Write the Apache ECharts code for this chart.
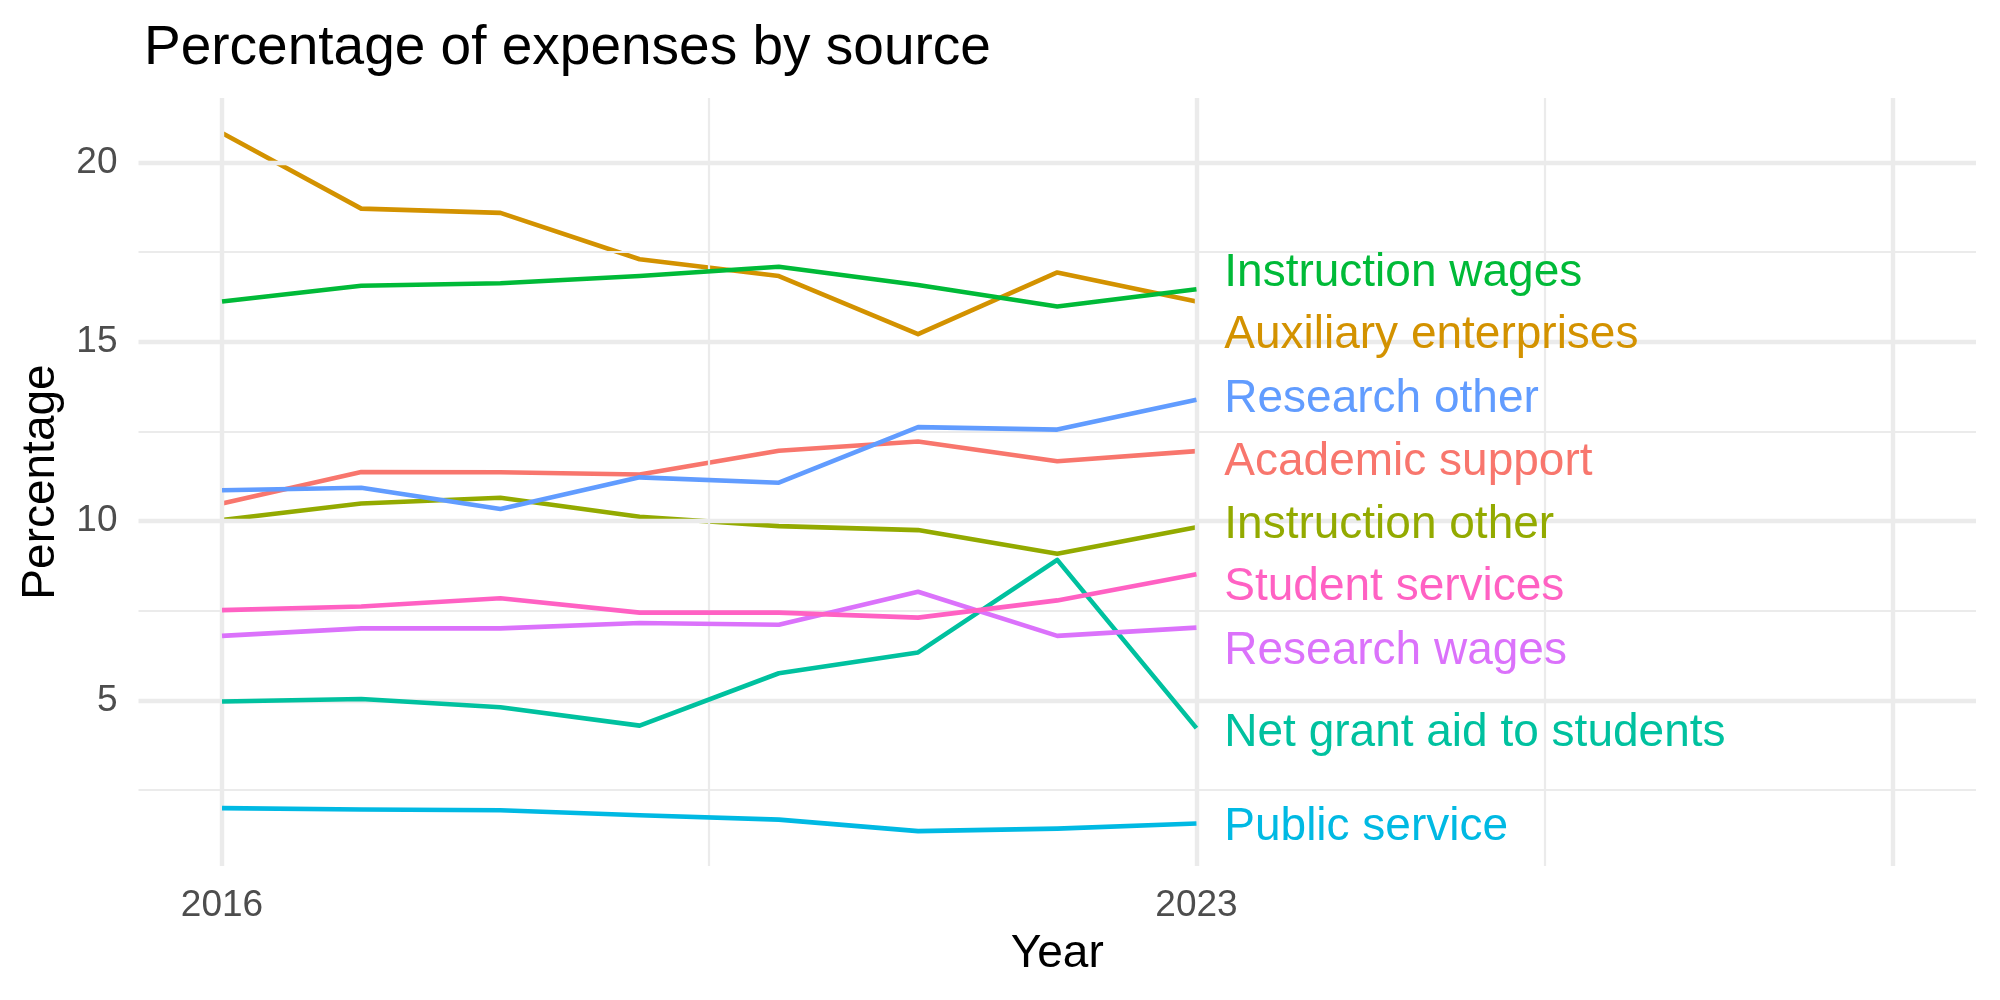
<!DOCTYPE html>
<html>
<head>
<meta charset="utf-8">
<script src="https://cdn.jsdelivr.net/npm/echarts@6/dist/echarts.min.js"></script>
<style>html,body{margin:0;padding:0;background:#fff}#c{width:2000px;height:1000px}</style>
</head>
<body>
<div id="c"></div>
<script>
// ---- data ----
const years = [2016, 2017, 2018, 2019, 2020, 2021, 2022, 2023];
const categories = ["Academic support", "Auxiliary enterprises", "Instruction other", "Instruction wages",
  "Net grant aid to students", "Public service", "Research other", "Research wages", "Student services"];
const academicSupport  = [10.49, 11.37, 11.36, 11.30, 11.96, 12.22, 11.67, 11.95];
const auxiliary        = [20.82, 18.71, 18.59, 17.30, 16.83, 15.21, 16.93, 16.12];
const instructionOther = [10.03, 10.49, 10.65, 10.12, 9.86, 9.75, 9.09, 9.83];
const instructionWages = [16.12, 16.56, 16.63, 16.83, 17.09, 16.58, 15.98, 16.46];
const netGrantAid      = [4.97, 5.04, 4.81, 4.30, 5.76, 6.34, 8.92, 4.23];
const publicService    = [2.00, 1.96, 1.94, 1.80, 1.68, 1.36, 1.43, 1.57];
const researchOther    = [10.86, 10.93, 10.34, 11.22, 11.07, 12.62, 12.55, 13.38];
const researchWages    = [6.80, 7.01, 7.01, 7.16, 7.11, 8.03, 6.80, 7.03];
const studentServices  = [7.52, 7.62, 7.85, 7.45, 7.45, 7.31, 7.79, 8.52];
// repelled label anchor values (y) next to the last year
const labelValues = [11.74, 15.30, 9.99, 17.03, 4.21, 1.57, 13.52, 6.49, 8.26];
const labelYear = 2023.2;
const xTickLabels = [2016, 2023];
const yTickLabels = [5, 10, 15, 20];
const xMajorGrid = [2016, 2023, 2028];
const xMinorGrid = [2019.5, 2025.5];
const yMajorGrid = [5, 10, 15, 20];
const yMinorGrid = [2.5, 7.5, 12.5, 17.5];
const xLimits = [2016, 2028];

// ---- styling ----
const colors = ["#F8766D", "#D39200", "#93AA00", "#00BA38", "#00C19F", "#00B9E3", "#619CFF", "#DB72FB", "#FF61C3"];
const values = [academicSupport, auxiliary, instructionOther, instructionWages, netGrantAid,
  publicService, researchOther, researchWages, studentServices];
const FONT = "Liberation Sans, Arial, Helvetica, sans-serif";

const all = values.flat();
const yMin = Math.min(...all), yMax = Math.max(...all);
const yPad = (yMax - yMin) * 0.05;
const xPad = (xLimits[1] - xLimits[0]) * 0.05;

const gridSeries = {
  type: 'line', name: '_grid', data: [[years[0], yMin]], showSymbol: false,
  lineStyle: { opacity: 0 }, z: 0, silent: true, tooltip: { show: false },
  markLine: {
    silent: true, symbol: 'none', label: { show: false }, animation: false,
    data: [
      ...yMinorGrid.map(v => ({ yAxis: v, lineStyle: { color: '#EBEBEB', width: 2.2, type: 'solid' } })),
      ...xMinorGrid.map(v => ({ xAxis: v, lineStyle: { color: '#EBEBEB', width: 2.2, type: 'solid' } })),
      ...yMajorGrid.map(v => ({ yAxis: v, lineStyle: { color: '#EBEBEB', width: 4.4, type: 'solid' } })),
      ...xMajorGrid.map(v => ({ xAxis: v, lineStyle: { color: '#EBEBEB', width: 4.4, type: 'solid' } }))
    ]
  }
};

const lineSeries = categories.map((name, i) => ({
  type: 'line', name, z: 2 + i,
  data: years.map((y, j) => [y, values[i][j]]),
  showSymbol: false, symbol: 'none',
  lineStyle: { color: colors[i], width: 4.6, join: 'round', cap: 'butt', opacity: 1 },
  itemStyle: { color: colors[i] }
}));

const labelSeries = {
  type: 'scatter', name: '_labels', z: 20, symbolSize: 0, silent: true,
  itemStyle: { opacity: 1 },
  data: categories.map((name, i) => ({
    value: [labelYear, labelValues[i]],
    itemStyle: { color: colors[i], opacity: 1 },
    label: {
      show: true, position: 'right', distance: 0, formatter: name, offset: [0, 4],
      color: colors[i], opacity: 1, fontSize: 46, fontFamily: FONT, verticalAlign: 'middle'
    }
  }))
};

const chart = echarts.init(document.getElementById('c'), null, { renderer: 'canvas' });
chart.setOption({
  animation: false,
  backgroundColor: '#ffffff',
  grid: { left: 138.5, right: 24, top: 98, bottom: 134, containLabel: false },
  title: {
    text: 'Percentage of expenses by source', left: 139, top: 16,
    textStyle: { fontFamily: FONT, fontSize: 55, fontWeight: 'normal', color: '#000' }
  },
  xAxis: {
    type: 'value', min: xLimits[0] - xPad, max: xLimits[1] + xPad,
    name: 'Year', nameLocation: 'middle', nameGap: 88,
    nameTextStyle: { fontFamily: FONT, fontSize: 46, color: '#000', verticalAlign: 'middle' },
    axisLine: { show: false }, axisTick: { show: false }, splitLine: { show: false },
    axisLabel: {
      customValues: xTickLabels, formatter: v => String(Math.round(v)),
      fontFamily: FONT, fontSize: 37, color: '#4D4D4D', margin: 21, lineHeight: 37
    }
  },
  yAxis: {
    type: 'value', min: yMin - yPad, max: yMax + yPad,
    name: 'Percentage', nameLocation: 'middle', nameGap: 97, nameRotate: 90,
    nameTextStyle: { fontFamily: FONT, fontSize: 46, color: '#000', verticalAlign: 'middle' },
    axisLine: { show: false }, axisTick: { show: false }, splitLine: { show: false },
    axisLabel: {
      customValues: yTickLabels, formatter: v => String(Math.round(v)),
      fontFamily: FONT, fontSize: 37, color: '#4D4D4D', margin: 21
    }
  },
  series: [gridSeries, ...lineSeries, labelSeries]
});
</script>
</body>
</html>
